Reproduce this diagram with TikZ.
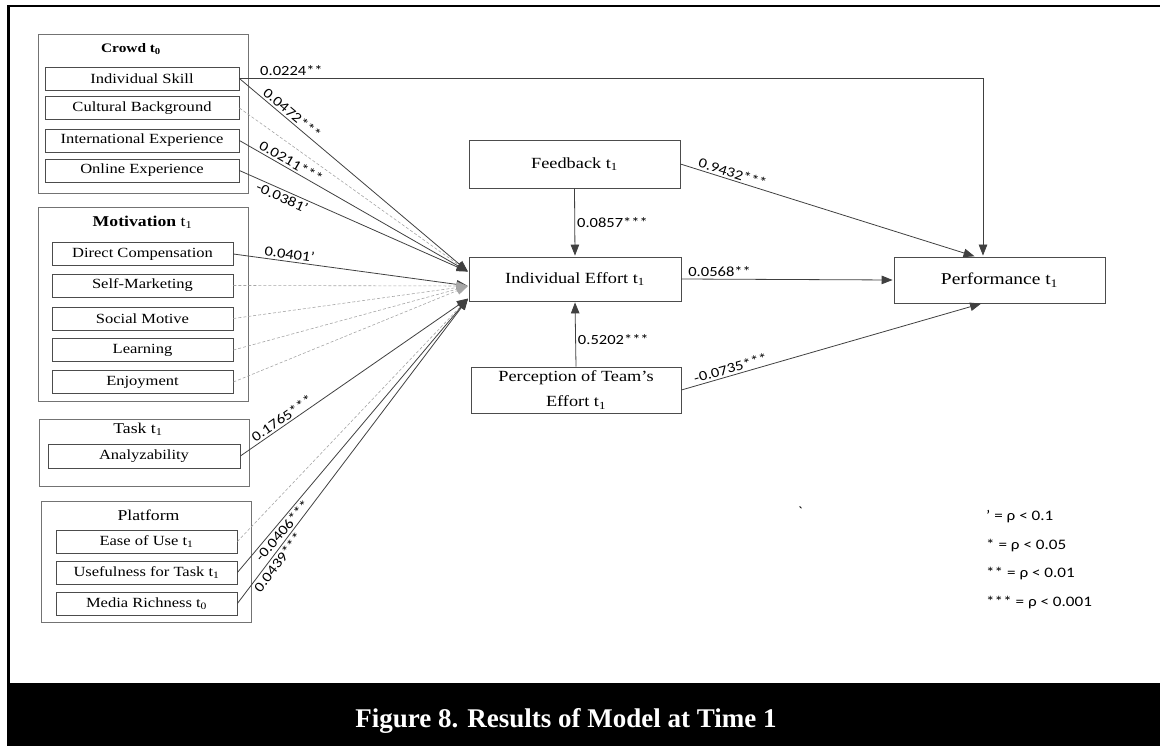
\documentclass[tikz,border=0pt]{standalone}
\usepackage{fontspec}
\setmainfont{Liberation Serif}[FakeStretch=1.18]
\newfontfamily\lblfont{Carlito}[FakeStretch=1.18]
\newfontfamily\capfont{Liberation Serif}
\usetikzlibrary{arrows.meta}

\begin{document}
\begin{tikzpicture}[x=1pt,y=-1pt,>={Triangle[length=11pt,width=8.5pt]},shorten >=1pt,
  var/.style={draw=black!70,line width=0.8pt,inner sep=0pt,minimum height=23pt,font=\fontsize{14}{16}\selectfont},
  groupbox/.style={draw=black!55,line width=0.8pt,inner sep=0pt},
  grouptitle/.style={inner sep=0pt,font=\fontsize{15}{17}\selectfont},
  mainbox/.style={draw=black!70,line width=0.8pt,inner sep=0pt,font=\fontsize{15.5}{18}\selectfont},
  coef/.style={inner sep=2pt,font=\lblfont\fontsize{14}{16}\selectfont},
  sig/.style={draw=black!75,line width=0.8pt},
  nsig/.style={draw=black!35,line width=0.6pt,dash pattern=on 3pt off 2pt},
  legendtxt/.style={anchor=base west,inner sep=0pt,font=\lblfont\fontsize{14.5}{17}\selectfont}]

\useasboundingbox (0,0) rectangle (1160,746);

% frame and caption
\fill (7.3,683) rectangle (1160,746);
\draw[line width=2.6pt,shorten >=0pt] (8.6,683) -- (8.6,6.2) -- (1160,6.2);
\node[anchor=base,text=white,font=\capfont\bfseries\fontsize{27}{30}\selectfont] (cap) at (566,727) {Figure 8. Results of Model at Time 1};

% Crowd
\node[groupbox,minimum width=210pt,minimum height=159pt] (crowd) at (143,113.5) {};
\node[grouptitle,font=\bfseries\fontsize{13}{15}\selectfont] (crowdT) at (131,49) {Crowd t\textsubscript{0}};
\node[var,minimum width=194pt] (skill)   at (142,78.5)  {Individual Skill};
\node[var,minimum width=194pt] (culture) at (142,108)   {Cultural Background};
\node[var,minimum width=194pt] (intl)    at (142,140.5) {International Experience};
\node[var,minimum width=194pt] (online)  at (142,170.5) {Online Experience};

% Motivation
\node[groupbox,minimum width=210pt,minimum height=194pt] (motiv) at (143,304) {};
\node[grouptitle] (motivT) at (142.5,222) {\textbf{Motivation} t\textsubscript{1}};
\node[var,minimum width=181pt] (dcomp)  at (142.5,254)   {Direct Compensation};
\node[var,minimum width=181pt] (selfm)  at (142.5,285.5) {Self-Marketing};
\node[var,minimum width=181pt] (social) at (142.5,318.5) {Social Motive};
\node[var,minimum width=181pt] (learn)  at (142.5,350)   {Learning};
\node[var,minimum width=181pt] (enjoy)  at (142.5,382)   {Enjoyment};

% Task
\node[groupbox,minimum width=210pt,minimum height=67pt] (task) at (144,452.5) {};
\node[grouptitle] (taskT) at (138,429) {Task t\textsubscript{1}};
\node[var,minimum width=192pt,minimum height=24pt] (analyz) at (144,456) {Analyzability};

% Platform
\node[groupbox,minimum width=210pt,minimum height=121pt] (platf) at (146,561.5) {};
\node[grouptitle] (platfT) at (148.5,515) {Platform};
\node[var,minimum width=181pt] (ease)   at (146.5,541.5) {Ease of Use t\textsubscript{1}};
\node[var,minimum width=181pt] (useful) at (146.5,572.5) {Usefulness for Task t\textsubscript{1}};
\node[var,minimum width=181pt] (media)  at (146.5,603.5) {Media Richness t\textsubscript{0}};

% model
\node[mainbox,minimum width=211pt,minimum height=48pt] (feedback) at (574.5,164) {Feedback t\textsubscript{1}};
\node[mainbox,minimum width=212pt,minimum height=44pt] (effort)   at (575,279)   {Individual Effort t\textsubscript{1}};
\node[mainbox,minimum width=210pt,minimum height=46pt,align=center,font=\fontsize{15.5}{25}\selectfont] (percep) at (576,390) {Perception of Team’s\\Effort t\textsubscript{1}};
\node[mainbox,minimum width=211pt,minimum height=46pt,font=\fontsize{16.5}{19}\selectfont] (perf) at (999.5,280) {Performance t\textsubscript{1}};

\coordinate (inA) at ([yshift=7pt]effort.west);
\coordinate (inB) at ([yshift=-7pt]effort.west);
\coordinate (inC) at ([yshift=-19pt]effort.west);
\coordinate (perfA) at ([xshift=-16.5pt]perf.north);
\coordinate (perfB) at ([xshift=-24pt]perf.north);
\coordinate (perfC) at ([xshift=-17.5pt]perf.south);

% paths
\path[->] (dcomp.east) edge[sig] node[coef,sloped,above,pos=0.235] {0.0401’} (inB);
\path[->] (culture.east) edge[nsig] (inA)
          (selfm.east)   edge[nsig] (inB)
          (social.east)  edge[nsig] (inB)
          (learn.east)   edge[nsig] (inB)
          (enjoy.east)   edge[nsig] (inB)
          (ease.east)    edge[nsig] (inC);
\path[->] (skill.east)  edge[sig] node[coef,sloped,above,pos=0.21] {0.0472***} (inA)
          (intl.east)   edge[sig] node[coef,sloped,above,pos=0.21] {0.0211***} (inA)
          (online.east) edge[sig] node[coef,sloped,below,pos=0.2] {-0.0381’} (inA)
          (analyz.east) edge[sig] node[coef,sloped,above,pos=0.2] {0.1765***} (inC)
          (useful.east) edge[sig] node[coef,sloped,below,pos=0.17] {-0.0406***} (inC)
          (media.east)  edge[sig] node[coef,sloped,below,pos=0.15] {0.0439***} (inC)
          (feedback.south) edge[sig] node[coef,right,pos=0.5]  {0.0857***} (effort.north)
          (percep.north)   edge[sig] node[coef,right,pos=0.42] {0.5202***} (effort.south)
          (effort.east)    edge[sig] node[coef,above,pos=0.18] {0.0568**} (perf.west)
          (feedback.east)  edge[sig] node[coef,sloped,above,pos=0.17] {0.9432***} (perfB)
          (percep.east)    edge[sig] node[coef,sloped,above,pos=0.17] {-0.0735***} (perfC);
\draw[->,sig] (skill.east) -| (perfA) node[coef,above,pos=0.035] {0.0224**};

% legend
\node[legendtxt] (leg1) at (986,520.5) {’ = ρ < 0.1};
\node[legendtxt] (leg2) at (986,549)   {* = ρ < 0.05};
\node[legendtxt] (leg3) at (986,577.5) {** = ρ < 0.01};
\node[legendtxt] (leg4) at (986,606.5) {*** = ρ < 0.001};
\node[coef] (tick) at (800,512) {\textasciigrave};

\end{tikzpicture}
\end{document}
